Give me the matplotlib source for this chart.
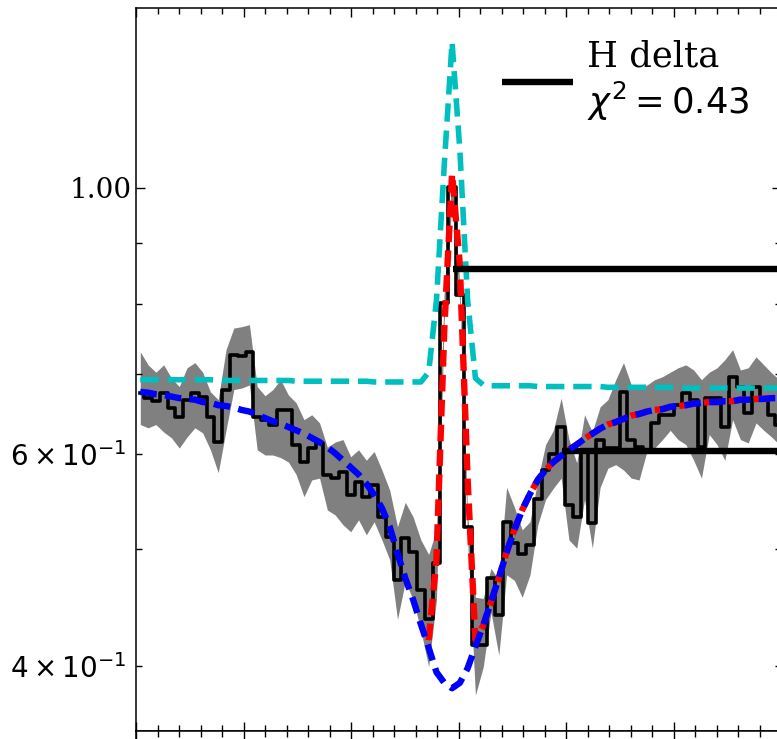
import numpy as np
import matplotlib
matplotlib.use('Agg')
import matplotlib.pyplot as plt
from matplotlib.ticker import FixedLocator, FixedFormatter, MultipleLocator

plt.rcParams['font.family'] = ['DejaVu Serif']
plt.rcParams['mathtext.fontset'] = 'dejavusans'

# binned spectrum around H delta (wavelength grid in Angstrom)
wave = 4040.8 + 1.45 * np.arange(83)

flux = np.array([
    0.675, 0.668, 0.664, 0.675, 0.656, 0.644, 0.666, 0.675, 0.670, 0.644,
    0.614, 0.679, 0.726, 0.724, 0.730, 0.644, 0.641, 0.635, 0.653, 0.653,
    0.610, 0.591, 0.607, 0.613, 0.577, 0.573, 0.580, 0.555, 0.569, 0.553,
    0.566, 0.532, 0.512, 0.471, 0.511, 0.497, 0.462, 0.437, 0.487, 0.802,
    1.001, 0.814, 0.522, 0.416, 0.416, 0.473, 0.441, 0.527, 0.506, 0.495,
    0.504, 0.550, 0.582, 0.600, 0.632, 0.544, 0.532, 0.605, 0.526, 0.617,
    0.607, 0.607, 0.676, 0.617, 0.608, 0.605, 0.637, 0.647, 0.647, 0.659,
    0.675, 0.666, 0.608, 0.668, 0.668, 0.632, 0.696, 0.683, 0.649, 0.683,
    0.666, 0.647, 0.635])

flux_hi = np.array([
    0.730, 0.712, 0.702, 0.712, 0.694, 0.683, 0.708, 0.715, 0.702, 0.676,
    0.666, 0.733, 0.764, 0.766, 0.769, 0.683, 0.671, 0.679, 0.692, 0.672,
    0.662, 0.641, 0.647, 0.637, 0.608, 0.614, 0.617, 0.597, 0.605, 0.593,
    0.603, 0.582, 0.560, 0.522, 0.547, 0.532, 0.509, 0.495, 0.519, 0.822,
    1.025, 0.830, 0.534, 0.456, 0.455, 0.482, 0.471, 0.563, 0.542, 0.519,
    0.527, 0.571, 0.611, 0.628, 0.668, 0.617, 0.590, 0.647, 0.626, 0.657,
    0.666, 0.692, 0.715, 0.685, 0.679, 0.685, 0.692, 0.696, 0.702, 0.708,
    0.712, 0.705, 0.692, 0.702, 0.708, 0.719, 0.733, 0.705, 0.708, 0.723,
    0.712, 0.701, 0.692])

flux_lo = np.array([
    0.635, 0.631, 0.635, 0.626, 0.619, 0.607, 0.620, 0.631, 0.625, 0.605,
    0.579, 0.628, 0.679, 0.681, 0.685, 0.605, 0.599, 0.599, 0.596, 0.591,
    0.577, 0.553, 0.571, 0.573, 0.539, 0.534, 0.524, 0.517, 0.529, 0.514,
    0.527, 0.509, 0.490, 0.437, 0.470, 0.454, 0.428, 0.399, 0.454, 0.776,
    0.977, 0.799, 0.509, 0.378, 0.399, 0.443, 0.408, 0.476, 0.471, 0.456,
    0.476, 0.524, 0.550, 0.562, 0.573, 0.509, 0.501, 0.550, 0.501, 0.563,
    0.584, 0.588, 0.582, 0.573, 0.571, 0.603, 0.607, 0.617, 0.628, 0.617,
    0.611, 0.593, 0.573, 0.623, 0.611, 0.593, 0.641, 0.617, 0.613, 0.637,
    0.628, 0.620, 0.611])

# broad absorption model (blue)
absorption = np.array([
    0.676, 0.675, 0.673, 0.672, 0.670, 0.668, 0.667, 0.666, 0.663, 0.662,
    0.659, 0.658, 0.656, 0.653, 0.651, 0.647, 0.643, 0.639, 0.636, 0.632,
    0.628, 0.624, 0.619, 0.614, 0.608, 0.601, 0.593, 0.585, 0.577, 0.567,
    0.555, 0.541, 0.522, 0.496, 0.473, 0.454, 0.433, 0.414, 0.395, 0.387,
    0.383, 0.387, 0.398, 0.415, 0.432, 0.452, 0.473, 0.497, 0.519, 0.539,
    0.556, 0.571, 0.582, 0.591, 0.598, 0.605, 0.611, 0.618, 0.624, 0.630,
    0.635, 0.638, 0.642, 0.646, 0.648, 0.651, 0.653, 0.654, 0.657, 0.658,
    0.659, 0.661, 0.662, 0.663, 0.663, 0.664, 0.664, 0.666, 0.666, 0.667,
    0.667, 0.668, 0.668])

# emission + absorption fit (red): core bins 37-43, then follows the absorption model
fit_start = 37
fit_core = np.array([0.420, 0.490, 0.761, 1.027, 0.862, 0.571, 0.420])

# emission on flat continuum (cyan)
emission = np.array([
    0.692, 0.692, 0.692, 0.692, 0.692, 0.692, 0.692, 0.692, 0.692, 0.692,
    0.691, 0.691, 0.691, 0.691, 0.691, 0.691, 0.691, 0.691, 0.691, 0.691,
    0.690, 0.690, 0.690, 0.690, 0.690, 0.690, 0.690, 0.690, 0.690, 0.690,
    0.689, 0.689, 0.689, 0.689, 0.689, 0.689, 0.689, 0.702, 0.806, 1.044,
    1.322, 1.075, 0.806, 0.694, 0.685, 0.684, 0.684, 0.684, 0.684, 0.684,
    0.684, 0.683, 0.683, 0.683, 0.683, 0.683, 0.683, 0.683, 0.683, 0.683,
    0.682, 0.682, 0.682, 0.682, 0.682, 0.682, 0.682, 0.682, 0.682, 0.682,
    0.681, 0.681, 0.681, 0.681, 0.681, 0.681, 0.681, 0.681, 0.681, 0.681,
    0.681, 0.681, 0.681])

# horizontal reference levels
level_flux = [0.855, 0.604]
level_start = [4099.0, 4119.3]
legend_label = 'H delta\n$\\chi^2 = 0.43$'

fig = plt.figure(figsize=(7.77, 7.39), dpi=100)
ax = fig.add_axes([136 / 777, 8.5 / 739, 645 / 777, 723 / 739])
ax_low = fig.add_axes([136 / 777, 8.5 / 739 - 0.3, 645 / 777, 0.3], sharex=ax)

ax.fill_between(wave, flux_lo, flux_hi, color='gray', lw=0, zorder=1)
ax.plot(wave, flux, drawstyle='steps-mid', color='k', lw=2.6, zorder=3)
ax.plot(wave, emission, color='c', lw=4.0, ls=(0, (3.3, 1.6)), zorder=4)
red = np.concatenate([fit_core, absorption[fit_start + len(fit_core):]])
ax.plot(wave[fit_start:], red, color='r', lw=4.6, ls=(0, (2.6, 1.3)), zorder=5)
for i, (lev, x0) in enumerate(zip(level_flux, level_start)):
    ax.hlines(lev, x0, 4175, color='k', lw=4.6, zorder=5.5,
              label=legend_label if i == 0 else None)
ax.plot(wave, absorption, color='b', lw=4.6, ls=(0, (2.6, 1.3)), zorder=6)

ax.set_yscale('log')
ax.set_xlim(4040, 4160)
ax.set_ylim(0.3532, 1.4126)
ax.yaxis.set_major_locator(FixedLocator([1.0]))
ax.yaxis.set_major_formatter(FixedFormatter(['1.00']))
ax.yaxis.set_minor_locator(FixedLocator([0.4, 0.5, 0.6, 0.7, 0.8, 0.9]))
ax.yaxis.set_minor_formatter(FixedFormatter(
    [r'$4\times10^{-1}$', '', r'$6\times10^{-1}$', '', '', '']))
ax.xaxis.set_major_locator(MultipleLocator(20))
ax.xaxis.set_minor_locator(MultipleLocator(4))
ax.tick_params(which='both', direction='in', top=True, right=True,
               labelbottom=False, labelsize=20)
ax.tick_params(which='major', length=6.5, width=1)
ax.tick_params(which='minor', length=4.5, width=1)
ax.tick_params(axis='y', which='minor', pad=7)
ax.tick_params(axis='y', which='major', pad=3)
for s in ax.spines.values():
    s.set_linewidth(1.1)

ax_low.tick_params(which='both', direction='in', top=True, right=True,
                   labelbottom=False, labelleft=False)
ax_low.tick_params(which='major', length=6.5, width=1)
ax_low.tick_params(which='minor', length=4.5, width=1)
ax_low.set_yticks([])
for s in ax_low.spines.values():
    s.set_linewidth(1.1)

ax.legend(loc='upper right', frameon=False, fontsize=25.5,
          handlelength=2.0, handletextpad=0.4)

fig.savefig('out.png', dpi=100)
